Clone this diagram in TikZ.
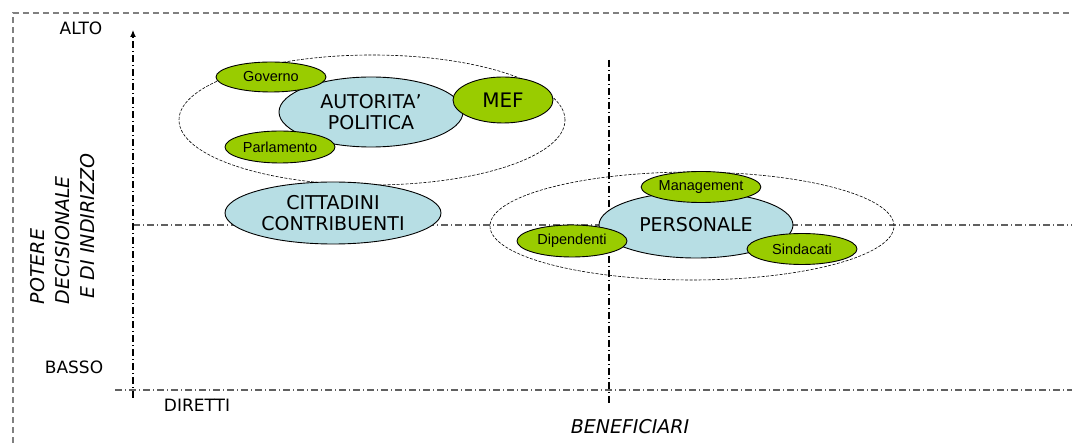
\documentclass[tikz,border=0pt]{standalone}
\usepackage{fontspec}
\setmainfont{DejaVu Sans}
\newfontfamily\arialfont{Liberation Sans}
\usetikzlibrary{shapes.geometric,arrows.meta}
\definecolor{lblue}{HTML}{B7DEE4}
\definecolor{lgreen}{HTML}{99CC00}
\definecolor{axgray}{HTML}{606060}
\tikzset{
  dashdot/.style={line width=1.1pt, dash pattern=on 7pt off 3pt on 1pt off 3pt},
  group/.style={draw, ellipse, line width=0.6pt, dash pattern=on 3pt off 1.5pt, inner sep=0pt},
  bluenode/.style={draw, ellipse, fill=lblue, line width=0.9pt, inner sep=0pt, align=center, font=\fontsize{19}{21}\selectfont},
  greennode/.style={draw, ellipse, fill=lgreen, line width=0.9pt, inner sep=0pt, font=\arialfont\fontsize{14.5}{16}\selectfont},
  lab/.style={inner sep=0pt, font=\fontsize{17}{19}\selectfont},
}
\begin{document}
\begin{tikzpicture}[x=1pt,y=-1pt]
\useasboundingbox (0,0) rectangle (1074,443);
% outer frame
\draw[axgray!80, line width=1.2pt, dash pattern=on 6pt off 4pt] (13,443) -- (13,13) -- (1071,13);
% axes
\coordinate (vb) at (133,398); \coordinate (vt) at (133,30);
\coordinate (hl) at (115,390); \coordinate (hr) at (1072,390);
\coordinate (mvt) at (609,60); \coordinate (mvb) at (609,405);
\coordinate (mhl) at (133,225); \coordinate (mhr) at (1072,225);
\draw[axgray, dashdot] (mhl) -- (mhr);
\draw[axgray, dashdot] (hl) -- (hr);
\draw[black, dashdot] (mvt) -- (mvb);
\draw[black, dashdot, -{Latex[length=7pt,width=6pt]}] (vb) -- (vt);
% labels
\node[lab] (alto) at (81,28) {ALTO};
\node[lab] (basso) at (74,367) {BASSO};
\node[lab] (diretti) at (197,405) {DIRETTI};
\node[inner sep=0pt, font=\itshape\fontsize{19}{21}\selectfont] (benef) at (630,427) {BENEFICIARI};
\node[inner sep=0pt, rotate=90, align=left, font=\itshape\fontsize{19}{25}\selectfont] (potere) at (63,229) {POTERE\\DECISIONALE\\\ E DI INDIRIZZO};
% groups
\node[group, minimum width=386pt, minimum height=130pt] (g1) at (372,120) {};
\node[group, minimum width=404pt, minimum height=108pt] (g2) at (692,226) {};
% blue nodes
\node[bluenode, minimum width=184pt, minimum height=70pt] (aut) at (371,112) {AUTORITA'\\POLITICA};
\node[bluenode, minimum width=216pt, minimum height=62pt] (citt) at (333,213) {CITTADINI\\CONTRIBUENTI};
\node[bluenode, minimum width=194pt, minimum height=66pt] (pers) at (696,225) {PERSONALE};
% green nodes
\node[greennode, minimum width=110pt, minimum height=30pt] (gov) at (271,77) {Governo};
\node[greennode, minimum width=110pt, minimum height=32pt] (parl) at (280,147) {Parlamento};
\node[greennode, minimum width=100pt, minimum height=46pt, font=\fontsize{20}{22}\selectfont] (mef) at (503,100) {MEF};
\node[greennode, minimum width=110pt, minimum height=31pt] (man) at (701,187) {Management};
\node[greennode, minimum width=110pt, minimum height=32pt] (dip) at (572,241) {Dipendenti};
\node[greennode, minimum width=110pt, minimum height=31pt] (sind) at (802,249) {Sindacati};
\end{tikzpicture}
\end{document}
